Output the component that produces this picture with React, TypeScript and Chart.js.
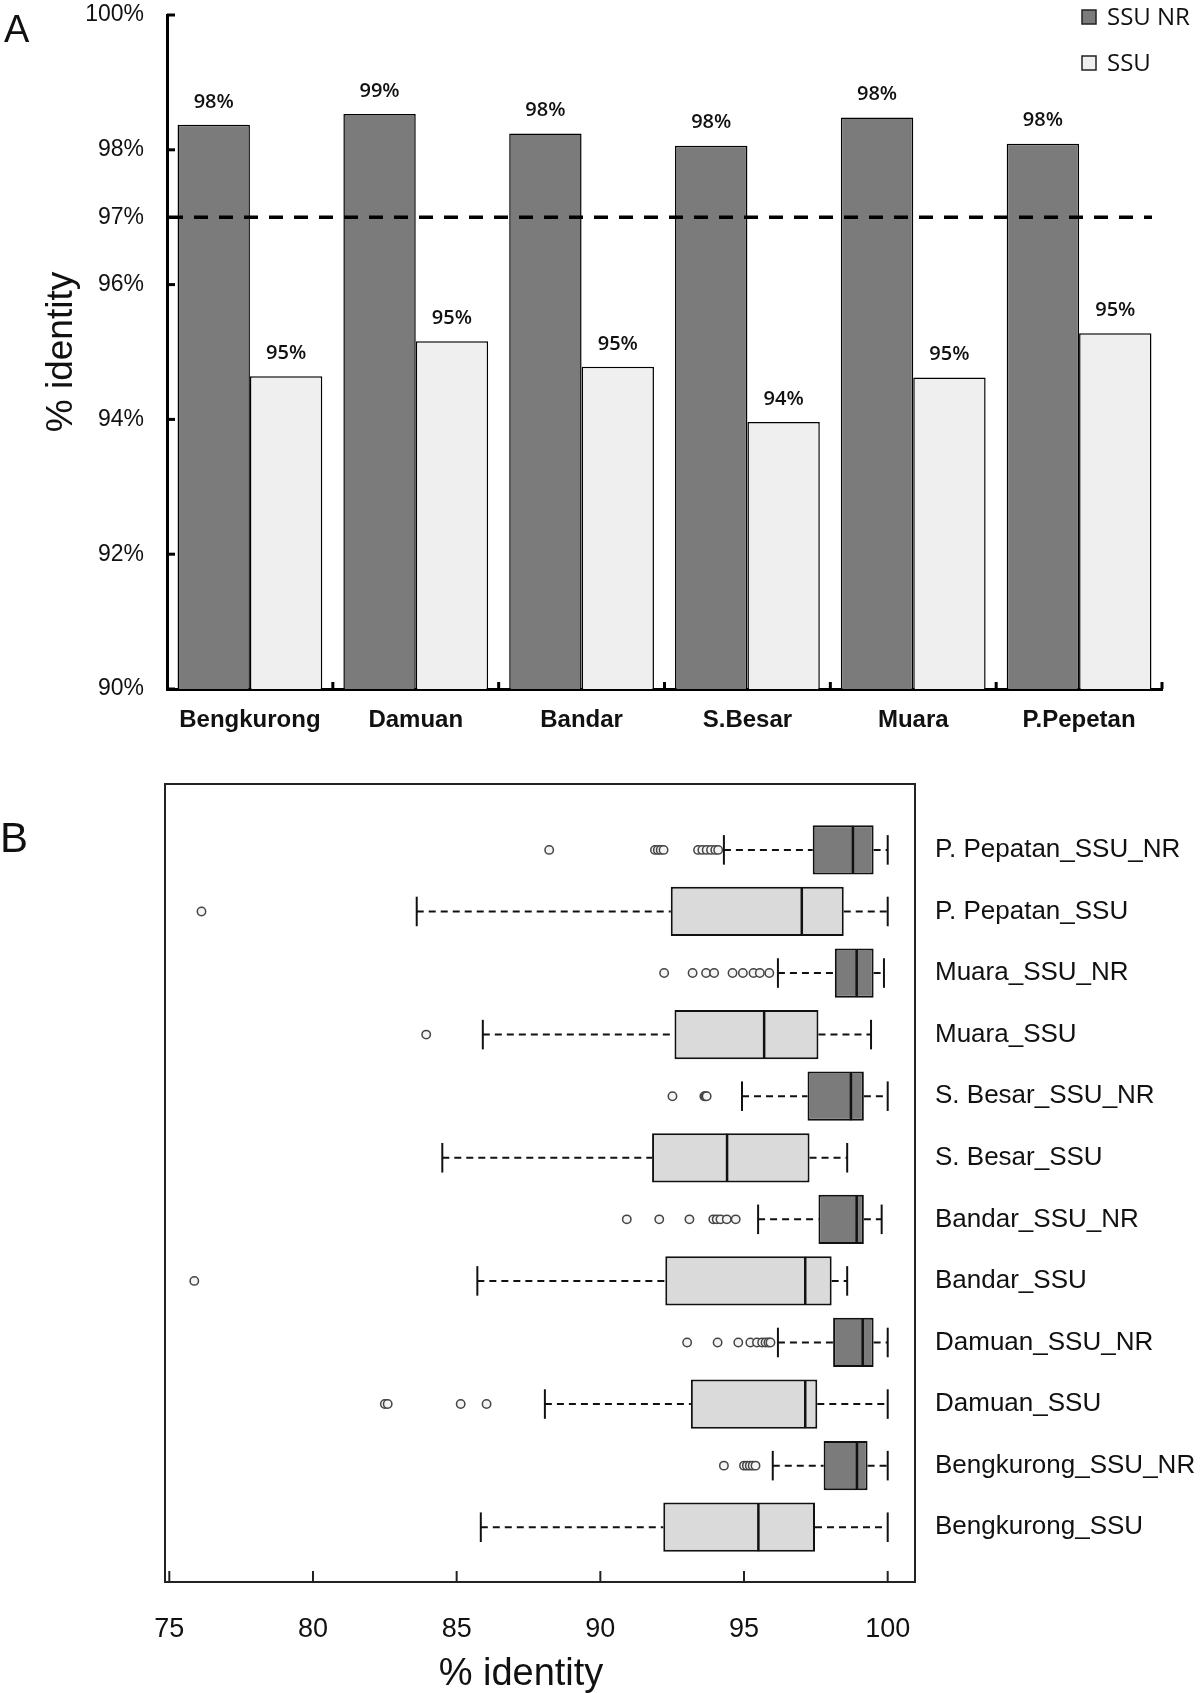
import React, { useEffect, useRef } from 'react';
import { Chart, registerables } from 'chart.js';

Chart.register(...registerables);

// ---------- Panel A data ----------
const sites = ['Bengkurong', 'Damuan', 'Bandar', 'S.Besar', 'Muara', 'P.Pepetan'];
const ssuNrIdentity = [98.37, 98.53, 98.24, 98.06, 98.48, 98.09];
const ssuIdentity = [94.64, 95.16, 94.78, 93.96, 94.62, 95.28];
const yTickValuesA = [90, 92, 94, 96, 97, 98, 100];
const thresholdA = 97;
const legendLabels = ['SSU NR', 'SSU'];

// ---------- Panel B data (rows from bottom to top) ----------
const rowLabels = [
  'Bengkurong_SSU', 'Bengkurong_SSU_NR',
  'Damuan_SSU', 'Damuan_SSU_NR',
  'Bandar_SSU', 'Bandar_SSU_NR',
  'S. Besar_SSU', 'S. Besar_SSU_NR',
  'Muara_SSU', 'Muara_SSU_NR',
  'P. Pepatan_SSU', 'P. Pepatan_SSU_NR',
];
const whiskerLow = [85.84, 96.0, 88.07, 96.18, 85.72, 95.49, 84.5, 94.93, 85.91, 96.18, 83.61, 94.3];
const quartile1 = [92.19, 97.77, 93.15, 98.1, 92.26, 97.59, 91.8, 97.21, 92.58, 98.16, 92.45, 97.39];
const medians = [95.5, 98.93, 97.13, 99.13, 97.13, 98.92, 94.41, 98.72, 95.7, 98.92, 97.01, 98.79];
const quartile3 = [97.47, 99.3, 97.55, 99.51, 98.05, 99.17, 97.28, 99.17, 97.59, 99.51, 98.47, 99.51];
const whiskerHigh = [100, 100, 100, 100, 98.59, 99.79, 98.59, 100, 99.42, 99.87, 100, 100];
const outliers: number[][] = [
  [],
  [94.3, 95.0, 95.1, 95.2, 95.3, 95.4],
  [82.5, 82.6, 85.14, 86.04],
  [93.02, 94.08, 94.8, 95.22, 95.45, 95.63, 95.75, 95.85, 95.92],
  [75.87],
  [90.92, 92.05, 93.1, 93.93, 94.05, 94.18, 94.4, 94.71],
  [],
  [92.51, 93.62, 93.66, 93.7],
  [83.94],
  [92.22, 93.21, 93.68, 93.96, 94.6, 94.96, 95.33, 95.55, 95.88],
  [76.12],
  [88.22, 91.9, 92.0, 92.1, 92.2, 93.4, 93.55, 93.7, 93.85, 94.0, 94.1],
];
const xTickValuesB = [75, 80, 85, 90, 95, 100];

const FONT = '"Liberation Sans", Arial, sans-serif';
const FONT2 = '"Open Sans", "Liberation Sans", sans-serif';
const NR_FILL = '#7b7b7b';
const SSU_FILL_A = '#efefef';
const SSU_FILL_B = '#dadada';

const zeroPad = (s: any) => {
  s.paddingTop = 0;
  s.paddingBottom = 0;
  s.paddingLeft = 0;
  s.paddingRight = 0;
};

function PanelA() {
  const ref = useRef<HTMLCanvasElement>(null);
  useEffect(() => {
    const canvas = ref.current;
    if (!canvas) return;
    const decor = {
      id: 'decorA',
      afterDatasetsDraw(chart: any) {
        const { ctx, chartArea, scales } = chart;
        const xs = scales.x;
        const ys = scales.y;
        ctx.save();
        // threshold dashed line
        const ty = ys.getPixelForValue(thresholdA);
        ctx.strokeStyle = '#000';
        ctx.lineWidth = 3.5;
        ctx.setLineDash([14, 11]);
        ctx.beginPath();
        ctx.moveTo(chartArea.left + 2, ty);
        ctx.lineTo(chartArea.right - 10, ty);
        ctx.stroke();
        ctx.setLineDash([]);
        // inward ticks
        ctx.lineWidth = 3;
        yTickValuesA.forEach((v) => {
          if (v === thresholdA) return;
          const py = ys.getPixelForValue(v);
          ctx.beginPath();
          ctx.moveTo(chartArea.left, py);
          ctx.lineTo(chartArea.left + 8, py);
          ctx.stroke();
        });
        for (let i = 0; i < sites.length; i++) {
          const px = xs.getPixelForValue(i + 0.5);
          ctx.beginPath();
          ctx.moveTo(px, chartArea.bottom);
          ctx.lineTo(px, chartArea.bottom - 7);
          ctx.stroke();
        }
        // value labels
        ctx.fillStyle = '#111';
        ctx.font = `600 20px ${FONT2}`;
        ctx.textAlign = 'center';
        ctx.textBaseline = 'middle';
        chart.data.datasets.forEach((ds: any, di: number) => {
          const meta = chart.getDatasetMeta(di);
          meta.data.forEach((el: any, i: number) => {
            ctx.fillText(Math.round(ds.data[i]) + '%', el.x, el.y - 23);
          });
        });
        // panel letter
        ctx.textAlign = 'left';
        ctx.textBaseline = 'alphabetic';
        ctx.font = `38px ${FONT}`;
        ctx.fillText('A', 4, 42);
        // legend
        const fills = [NR_FILL, SSU_FILL_A];
        legendLabels.forEach((lab, i) => {
          const cy = 17 + i * 46;
          ctx.fillStyle = fills[i];
          ctx.fillRect(1082, cy - 7, 14, 14);
          ctx.strokeStyle = '#222';
          ctx.lineWidth = 1.5;
          ctx.strokeRect(1082, cy - 7, 14, 14);
          ctx.fillStyle = '#111';
          ctx.font = `24px ${FONT2}`;
          ctx.textBaseline = 'middle';
          ctx.fillText(lab, 1107, cy + 1);
        });
        ctx.restore();
      },
    };
    const chart = new Chart(canvas, {
      type: 'bar',
      data: {
        labels: sites,
        datasets: [
          { label: legendLabels[0], data: ssuNrIdentity, backgroundColor: NR_FILL, borderColor: '#000', borderWidth: 1.5 },
          { label: legendLabels[1], data: ssuIdentity, backgroundColor: SSU_FILL_A, borderColor: '#000', borderWidth: 1.5 },
        ],
      },
      options: {
        responsive: false,
        animation: false,
        devicePixelRatio: 1,
        layout: { padding: { left: 0, top: 15, right: 38, bottom: 0 } },
        datasets: { bar: { categoryPercentage: 0.873, barPercentage: 1 } },
        plugins: { legend: { display: false }, tooltip: { enabled: false } },
        scales: {
          x: {
            grid: { display: false },
            border: { display: true, color: '#000', width: 3 },
            ticks: { color: '#111', padding: 9, font: { family: FONT, size: 24, weight: 'bold' } },
            afterFit: (s: any) => { s.height = 51; zeroPad(s); },
          },
          y: {
            min: 90,
            max: 100,
            afterBuildTicks: (s: any) => { s.ticks = yTickValuesA.map((v) => ({ value: v })); },
            grid: { display: false },
            border: { display: true, color: '#000', width: 3 },
            ticks: { color: '#111', padding: 15, font: { family: FONT, size: 23 }, callback: (v: any) => v + '%' },
            title: { display: true, text: '% identity', color: '#111', font: { family: FONT, size: 37 }, padding: { top: 40, bottom: 0 } },
            afterFit: (s: any) => { s.width = 167; zeroPad(s); },
          },
        },
      } as any,
      plugins: [decor],
    });
    return () => chart.destroy();
  }, []);
  return <canvas ref={ref} width={1200} height={740} style={{ display: 'block' }} />;
}

function PanelB() {
  const ref = useRef<HTMLCanvasElement>(null);
  useEffect(() => {
    const canvas = ref.current;
    if (!canvas) return;
    const decor = {
      id: 'decorB',
      beforeDatasetsDraw(chart: any) {
        const { ctx, scales } = chart;
        const xs = scales.x;
        const ys = scales.y;
        ctx.save();
        ctx.strokeStyle = '#111';
        rowLabels.forEach((_, i) => {
          const row = i + 1;
          const py = ys.getPixelForValue(row);
          ctx.lineWidth = 2;
          ctx.setLineDash([7, 5]);
          ctx.beginPath();
          ctx.moveTo(xs.getPixelForValue(whiskerLow[i]), py);
          ctx.lineTo(xs.getPixelForValue(quartile1[i]), py);
          ctx.moveTo(xs.getPixelForValue(quartile3[i]), py);
          ctx.lineTo(xs.getPixelForValue(whiskerHigh[i]), py);
          ctx.stroke();
          ctx.setLineDash([]);
          const y1 = ys.getPixelForValue(row - 0.24);
          const y2 = ys.getPixelForValue(row + 0.24);
          [whiskerLow[i], whiskerHigh[i]].forEach((v) => {
            const px = xs.getPixelForValue(v);
            ctx.beginPath();
            ctx.moveTo(px, y1);
            ctx.lineTo(px, y2);
            ctx.stroke();
          });
        });
        ctx.restore();
      },
      afterDatasetsDraw(chart: any) {
        const { ctx, scales } = chart;
        const xs = scales.x;
        const ys = scales.y;
        ctx.save();
        ctx.strokeStyle = '#111';
        ctx.lineWidth = 2.5;
        rowLabels.forEach((_, i) => {
          const row = i + 1;
          const px = xs.getPixelForValue(medians[i]);
          ctx.beginPath();
          ctx.moveTo(px, ys.getPixelForValue(row - 0.39));
          ctx.lineTo(px, ys.getPixelForValue(row + 0.39));
          ctx.stroke();
        });
        ctx.restore();
      },
      afterDraw(chart: any) {
        const { ctx, chartArea, scales } = chart;
        const xs = scales.x;
        ctx.save();
        ctx.strokeStyle = '#222';
        ctx.lineWidth = 2;
        ctx.strokeRect(chartArea.left, chartArea.top, chartArea.right - chartArea.left, chartArea.bottom - chartArea.top);
        xTickValuesB.forEach((v) => {
          const px = xs.getPixelForValue(v);
          ctx.beginPath();
          ctx.moveTo(px, chartArea.bottom);
          ctx.lineTo(px, chartArea.bottom - 11);
          ctx.stroke();
        });
        ctx.fillStyle = '#111';
        ctx.textAlign = 'center';
        ctx.textBaseline = 'alphabetic';
        ctx.font = `38px ${FONT}`;
        ctx.fillText('% identity', (chartArea.left + chartArea.right) / 2 - 19, 945);
        ctx.textAlign = 'left';
        ctx.font = `42px ${FONT}`;
        ctx.fillText('B', 0, 112);
        ctx.restore();
      },
    };
    const boxData = rowLabels.map((_, i) => ({ y: i + 1, x: [quartile1[i], quartile3[i]] }));
    const boxColors = rowLabels.map((l) => (l.endsWith('_NR') ? NR_FILL : SSU_FILL_B));
    const outlierData: { x: number; y: number }[] = [];
    outliers.forEach((arr, i) => arr.forEach((v) => outlierData.push({ x: v, y: i + 1 })));
    const chart = new Chart(canvas, {
      type: 'bar',
      data: {
        datasets: [
          {
            type: 'bar',
            indexAxis: 'y',
            data: boxData,
            backgroundColor: boxColors,
            borderColor: '#111',
            borderWidth: 2,
            borderSkipped: false,
            categoryPercentage: 0.8,
            barPercentage: 1,
          },
          {
            type: 'scatter',
            data: outlierData,
            pointRadius: 4.2,
            pointBackgroundColor: '#f4f4f4',
            pointBorderColor: '#444',
            pointBorderWidth: 1.5,
          },
        ],
      } as any,
      options: {
        responsive: false,
        animation: false,
        devicePixelRatio: 1,
        layout: { padding: { left: 165, top: 44, right: 0, bottom: 0 } },
        plugins: { legend: { display: false }, tooltip: { enabled: false } },
        scales: {
          x: {
            type: 'linear',
            offset: false,
            min: 74.85,
            max: 100.95,
            afterBuildTicks: (s: any) => { s.ticks = xTickValuesB.map((v) => ({ value: v })); },
            grid: { display: false, offset: false },
            border: { display: false },
            ticks: { color: '#111', padding: 23, font: { family: FONT, size: 27 } },
            afterFit: (s: any) => { s.height = 111; zeroPad(s); },
          },
          y: {
            type: 'linear',
            offset: false,
            position: 'right',
            min: 0.11,
            max: 13.07,
            beginAtZero: false,
            afterBuildTicks: (s: any) => { s.ticks = rowLabels.map((_, i) => ({ value: i + 1 })); },
            grid: { display: false, offset: false },
            border: { display: false },
            ticks: { color: '#111', padding: 12, font: { family: FONT, size: 26 }, callback: (v: any) => rowLabels[v - 1] },
            afterFit: (s: any) => { s.width = 285; zeroPad(s); },
          },
        },
      } as any,
      plugins: [decor],
    });
    return () => chart.destroy();
  }, []);
  return <canvas ref={ref} width={1200} height={953} style={{ display: 'block' }} />;
}

export default function App() {
  return (
    <div style={{ position: 'absolute', left: 0, top: 0, width: 1200, height: 1693, background: '#fff' }}>
      <PanelA />
      <PanelB />
    </div>
  );
}
